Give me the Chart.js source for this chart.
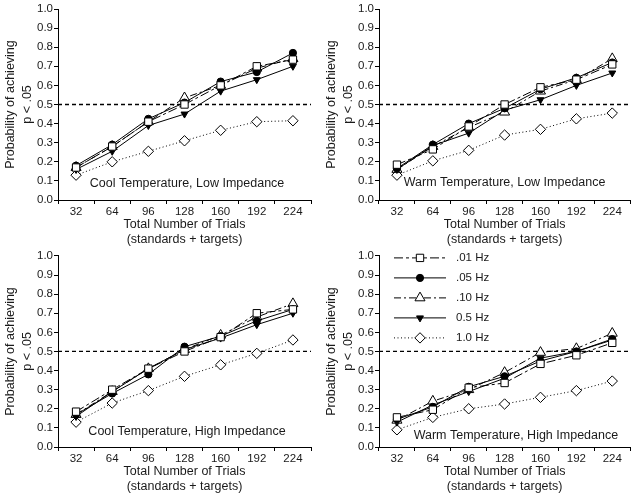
<!DOCTYPE html>
<html>
<head>
<meta charset="utf-8">
<script src="https://cdn.jsdelivr.net/npm/chart.js@4/dist/chart.umd.min.js"></script>
<style>
  body { margin: 0; background: #fff; }
  #wrap { position: relative; width: 637px; height: 497px; }
  canvas { position: absolute; }
</style>
</head>
<body>
<div id="wrap">
  <canvas id="c1" width="318" height="248" style="left:0px;top:0px"></canvas>
  <canvas id="c2" width="316" height="248" style="left:321px;top:0px"></canvas>
  <canvas id="c3" width="318" height="249" style="left:0px;top:248px"></canvas>
  <canvas id="c4" width="316" height="249" style="left:321px;top:248px"></canvas>
</div>
<script>
"use strict";

// categories
const trials = ['32', '64', '96', '128', '160', '192', '224'];
const seriesNames = ['.01 Hz', '.05 Hz', '.10 Hz', '0.5 Hz', '1.0 Hz'];
const yTickLabels = ['0.0', '0.1', '0.2', '0.3', '0.4', '0.5', '0.6', '0.7', '0.8', '0.9', '1.0'];
const criterion = 0.5;

// Cool temperature, low impedance
const coolLow01 = [0.17, 0.28, 0.41, 0.50, 0.60, 0.70, 0.735];
const coolLow05 = [0.18, 0.29, 0.425, 0.51, 0.62, 0.67, 0.77];
const coolLow10 = [0.17, 0.28, 0.41, 0.535, 0.60, 0.69, 0.74];
const coolLow5 = [0.16, 0.255, 0.39, 0.45, 0.57, 0.63, 0.70];
const coolLow1 = [0.13, 0.20, 0.255, 0.31, 0.365, 0.41, 0.415];

// Warm temperature, low impedance
const warmLow01 = [0.185, 0.265, 0.385, 0.50, 0.59, 0.63, 0.71];
const warmLow05 = [0.165, 0.29, 0.40, 0.48, 0.58, 0.64, 0.72];
const warmLow10 = [0.16, 0.28, 0.38, 0.46, 0.57, 0.63, 0.74];
const warmLow5 = [0.16, 0.285, 0.35, 0.47, 0.525, 0.60, 0.665];
const warmLow1 = [0.13, 0.205, 0.26, 0.34, 0.37, 0.425, 0.455];

// Cool temperature, high impedance
const coolHigh01 = [0.185, 0.30, 0.41, 0.50, 0.575, 0.70, 0.72];
const coolHigh05 = [0.17, 0.28, 0.38, 0.525, 0.58, 0.66, 0.72];
const coolHigh10 = [0.17, 0.29, 0.41, 0.51, 0.585, 0.68, 0.75];
const coolHigh5 = [0.16, 0.29, 0.41, 0.51, 0.57, 0.64, 0.70];
const coolHigh1 = [0.13, 0.23, 0.295, 0.37, 0.43, 0.49, 0.56];

// Warm temperature, high impedance
const warmHigh01 = [0.155, 0.195, 0.31, 0.335, 0.435, 0.48, 0.545];
const warmHigh05 = [0.145, 0.21, 0.315, 0.37, 0.45, 0.50, 0.565];
const warmHigh10 = [0.14, 0.24, 0.30, 0.39, 0.495, 0.515, 0.595];
const warmHigh5 = [0.13, 0.22, 0.29, 0.36, 0.465, 0.50, 0.56];
const warmHigh1 = [0.09, 0.155, 0.20, 0.225, 0.26, 0.295, 0.345];

const FONT = '"Liberation Sans", Arial, Helvetica, sans-serif';
const INK = '#1a1a1a';

// look of each frequency line
const styles = [
  { dash: [9, 3, 3, 3], pointStyle: 'rect', radius: 5.2, fill: '#fff', rotation: 0 },
  { dash: [], pointStyle: 'circle', radius: 3.6, fill: '#000', rotation: 0 },
  { dash: [7, 3, 2, 3], pointStyle: 'triangle', radius: 5.8, fill: '#fff', rotation: 0 },
  { dash: [], pointStyle: 'triangle', radius: 4, fill: '#000', rotation: 180 },
  { dash: [1, 2.5], pointStyle: 'rectRot', radius: 5.2, fill: '#fff', rotation: 0 }
];

const panels = [
  { id: 'c1', series: [coolLow01, coolLow05, coolLow10, coolLow5, coolLow1],
    label: 'Cool Temperature, Low Impedance', labelX: 0.51, labelY: 0.087,
    area: { left: 58, top: 9, right: 311, bottom: 200 } },
  { id: 'c2', series: [warmLow01, warmLow05, warmLow10, warmLow5, warmLow1],
    label: 'Warm Temperature, Low Impedance', labelX: 0.5, labelY: 0.09,
    area: { left: 58, top: 9, right: 312, bottom: 200 } },
  { id: 'c3', series: [coolHigh01, coolHigh05, coolHigh10, coolHigh5, coolHigh1],
    label: 'Cool Temperature, High Impedance', labelX: 0.51, labelY: 0.08,
    area: { left: 58, top: 7.3, right: 311, bottom: 199 } },
  { id: 'c4', series: [warmHigh01, warmHigh05, warmHigh10, warmHigh5, warmHigh1],
    label: 'Warm Temperature, High Impedance', labelX: 0.545, labelY: 0.059,
    area: { left: 58, top: 7.3, right: 312, bottom: 199 }, legend: true }
];

function drawMarker(ctx, st, x, y) {
  ctx.save();
  ctx.setLineDash([]);
  ctx.fillStyle = st.fill;
  ctx.strokeStyle = '#000';
  ctx.lineWidth = 1;
  Chart.helpers.drawPoint(ctx, { pointStyle: st.pointStyle, radius: st.radius, rotation: st.rotation, borderWidth: 1 }, x, y);
  ctx.restore();
}

const decor = {
  id: 'decor',
  beforeDatasetsDraw(chart) {
    const ctx = chart.ctx;
    const a = chart.chartArea;
    const y = chart.scales.y.getPixelForValue(criterion);
    ctx.save();
    ctx.strokeStyle = '#000';
    ctx.lineWidth = 1.3;
    ctx.setLineDash([4, 3]);
    ctx.beginPath();
    ctx.moveTo(a.left, y);
    ctx.lineTo(a.right, y);
    ctx.stroke();
    ctx.restore();
  },
  afterDraw(chart, args, opts) {
    const ctx = chart.ctx;
    const a = chart.chartArea;
    ctx.save();
    ctx.fillStyle = INK;
    ctx.font = '12.5px ' + FONT;
    ctx.textAlign = 'center';
    ctx.textBaseline = 'middle';
    ctx.fillText(opts.label, a.left + opts.labelX * (a.right - a.left), chart.scales.y.getPixelForValue(opts.labelY));

    if (opts.legend) {
      ctx.font = '11.5px ' + FONT;
      ctx.textAlign = 'left';
      for (let i = 0; i < seriesNames.length; i++) {
        const st = styles[i];
        const ry = a.top + 2 + i * 20;
        ctx.save();
        ctx.strokeStyle = '#000';
        ctx.lineWidth = 1;
        ctx.setLineDash(st.dash);
        ctx.beginPath();
        ctx.moveTo(a.left + 15, ry);
        ctx.lineTo(a.left + 67, ry);
        ctx.stroke();
        ctx.restore();
        drawMarker(ctx, st, a.left + 41, ry);
        ctx.fillStyle = INK;
        ctx.fillText(seriesNames[i], a.left + 77, ry);
      }
    }
    ctx.restore();
  }
};

function makePanel(p) {
  const canvas = document.getElementById(p.id);
  const w = canvas.width;
  const h = canvas.height;
  const xAxisH = 48;
  const yAxisW = 58;

  const datasets = [];
  for (let i = 0; i < seriesNames.length; i++) {
    const st = styles[i];
    datasets.push({
      label: seriesNames[i],
      data: p.series[i],
      borderColor: '#000',
      borderWidth: 1,
      borderDash: st.dash,
      pointStyle: st.pointStyle,
      pointRadius: st.radius,
      pointRotation: st.rotation,
      pointBackgroundColor: st.fill,
      pointBorderColor: '#000',
      pointBorderWidth: 1,
      tension: 0,
      fill: false
    });
  }

  new Chart(canvas, {
    type: 'line',
    data: { labels: trials, datasets: datasets },
    options: {
      responsive: false,
      animation: false,
      devicePixelRatio: 1,
      layout: {
        padding: {
          left: p.area.left - yAxisW,
          top: p.area.top,
          right: w - p.area.right,
          bottom: h - p.area.bottom - xAxisH
        }
      },
      plugins: {
        legend: { display: false },
        tooltip: { enabled: false },
        decor: { label: p.label, labelX: p.labelX, labelY: p.labelY, legend: !!p.legend }
      },
      scales: {
        x: {
          type: 'category',
          offset: true,
          grid: { display: true, offset: true, drawOnChartArea: false, drawTicks: true, tickLength: 4, color: '#000' },
          border: { display: true, color: '#000', width: 1 },
          ticks: { color: INK, font: { family: FONT, size: 11.5 }, padding: 1, maxRotation: 0, autoSkip: false },
          title: {
            display: true,
            text: ['Total Number of Trials', '(standards + targets)'],
            color: INK,
            font: { family: FONT, size: 12.5, lineHeight: 1.16 },
            padding: { top: 0, bottom: 1.5 }
          },
          afterFit: function (scale) { scale.height = xAxisH; }
        },
        y: {
          min: 0,
          max: 1,
          grid: { display: true, drawOnChartArea: false, drawTicks: true, tickLength: 4, color: '#000' },
          border: { display: true, color: '#000', width: 1 },
          ticks: {
            stepSize: 0.1,
            color: INK,
            font: { family: FONT, size: 11.5 },
            padding: 1,
            callback: function (v, i) { return yTickLabels[i]; }
          },
          title: {
            display: true,
            text: ['Probability of achieving', 'p < .05'],
            color: INK,
            font: { family: FONT, size: 12.5, lineHeight: 1.36 },
            padding: { top: 2, bottom: 0 }
          },
          afterFit: function (scale) { scale.width = yAxisW; }
        }
      }
    },
    plugins: [decor]
  });
}

panels.forEach(makePanel);
</script>
</body>
</html>
